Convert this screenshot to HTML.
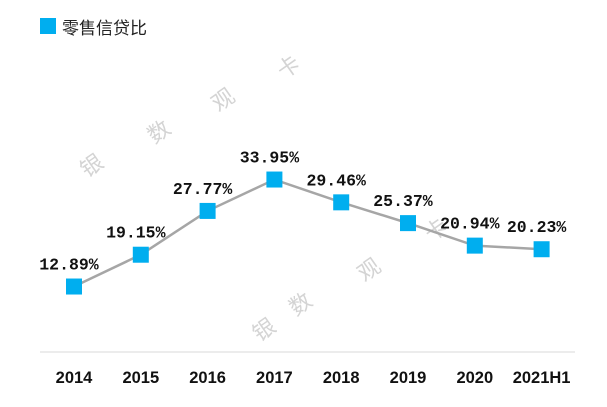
<!DOCTYPE html>
<html><head><meta charset="utf-8"><style>
body{margin:0;background:#fff;width:607px;height:407px;overflow:hidden}
svg{display:block}
</style></head><body>
<svg width="607" height="407">
<g>
<rect x="40" y="18" width="16" height="16" fill="#00AEEF"/>
<text x="62" y="34" font-family="'Liberation Sans','Noto Sans CJK SC',sans-serif" font-size="17" fill="#222">零售信贷比</text>
</g>
<g font-family="'Noto Sans CJK SC',sans-serif" font-size="22" fill="#d4d4d4">
<text x="80" y="174" transform="rotate(-35 90 165)">银</text>
<text x="148" y="140" transform="rotate(-35 158 132)">数</text>
<text x="212" y="108" transform="rotate(-35 222 100)">观</text>
<text x="278" y="75" transform="rotate(-35 288 68)">卡</text>
<text x="253" y="338" transform="rotate(-35 263 330)">银</text>
<text x="290" y="312" transform="rotate(-35 300 305)">数</text>
<text x="358" y="278" transform="rotate(-35 368 270)">观</text>
<text x="425" y="238" transform="rotate(-35 435 230)">卡</text>
</g>
<line x1="40" y1="352" x2="575" y2="352" stroke="#d9d9d9" stroke-width="1"/>
<g id="plot"></g>
</svg>
<script>
const categories=["2014","2015","2016","2017","2018","2019","2020","2021H1"];
const values=[12.89,19.15,27.77,33.95,29.46,25.37,20.94,20.23];
const valueLabels=["12.89%","19.15%","27.77%","33.95%","29.46%","25.37%","20.94%","20.23%"];
const NS="http://www.w3.org/2000/svg";
const g=document.getElementById('plot');
const xs=i=>74+i*66.8;
const ys=v=>352-v*5.08;
function mk(t,a){const e=document.createElementNS(NS,t);for(const k in a)e.setAttribute(k,a[k]);g.appendChild(e);return e;}
const line=mk('polyline',{points:values.map((v,i)=>xs(i)+','+ys(v)).join(' '),fill:'none',stroke:'#a6a6a6','stroke-width':2.5});


values.forEach((v,i)=>{
 const r=mk('rect',{x:xs(i)-8,y:ys(v)-8,width:16,height:16,fill:'#00AEEF'});
 
 
 const t=mk('text',{x:xs(i)-5,y:ys(v)-17,'text-anchor':'middle','font-family':"'Liberation Mono',monospace",'font-weight':'bold','font-size':16.5,fill:'#111'});
 t.textContent=valueLabels[i];
 
 
 const c=mk('text',{x:xs(i),y:383,'text-anchor':'middle','font-family':"'Liberation Sans',sans-serif",'font-weight':'bold','font-size':16.5,fill:'#111'});
 c.textContent=categories[i];
 
 
});
</script>
</body></html>
